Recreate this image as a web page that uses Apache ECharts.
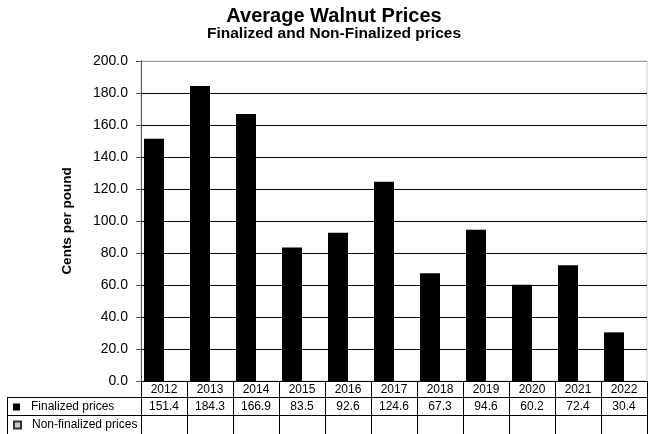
<!DOCTYPE html>
<html>
<head>
<meta charset="utf-8">
<script src="https://cdn.jsdelivr.net/npm/echarts@6/dist/echarts.min.js"></script>
<style>
  html, body { margin: 0; padding: 0; background: #fff; }
  #chart { width: 648px; height: 434px; }
</style>
</head>
<body>
<div id="chart"></div>
<script>
  // data
  var years = ['2012', '2013', '2014', '2015', '2016', '2017', '2018', '2019', '2020', '2021', '2022']
  var finalized = [151.4, 184.3, 166.9, 83.5, 92.6, 124.6, 67.3, 94.6, 60.2, 72.4, 30.4]
  var nonFinalized = [null, null, null, null, null, null, null, null, null, null, null]
  var yTicks = { min: 0, max: 200, interval: 20 }

  var font = 'Liberation Sans, Arial, sans-serif'
  var myChart = echarts.init(document.getElementById('chart'))

  // dark split lines, grey top one
  var splitColors = []
  for (var i = 0; i <= 10; i++) splitColors.push(i === 10 ? '#999' : '#000')

  var legendText = { fontSize: 12, color: '#000', lineHeight: 14, padding: [0, 0, 0, 6], fontFamily: font }

  var option = {
    animation: false,
    backgroundColor: '#fff',
    textStyle: { fontFamily: font },
    title: {
      text: 'Average Walnut Prices',
      subtext: 'Finalized and Non-Finalized prices',
      left: 334,
      textAlign: 'center',
      top: 6,
      padding: 0,
      itemGap: 0,
      textStyle: { fontSize: 20, fontWeight: 'bold', color: '#000', fontFamily: font },
      subtextStyle: { fontSize: 15.5, fontWeight: 'bold', color: '#000', fontFamily: font }
    },
    legend: [
      {
        left: 13, top: 400, padding: 0,
        itemWidth: 7, itemHeight: 7,
        selectedMode: false,
        textStyle: legendText,
        data: [{ name: 'Finalized prices', icon: 'rect' }]
      },
      {
        left: 13, top: 418, padding: 0,
        itemWidth: 7, itemHeight: 7,
        selectedMode: false,
        textStyle: legendText,
        data: [{ name: 'Non-finalized prices', icon: 'rect', itemStyle: { color: '#ccc', borderColor: '#333', borderWidth: 2 } }]
      }
    ],
    grid: {
      left: 141, right: 1, top: 61, bottom: 53,
      show: true, borderColor: '#ccc', borderWidth: 1
    },
    xAxis: [
      {
        type: 'category',
        data: years,
        position: 'bottom',
        axisLine: { lineStyle: { color: '#000', width: 1 } },
        axisTick: { show: true, length: 16, lineStyle: { color: '#000' } },
        axisLabel: { fontSize: 12, color: '#000', margin: 3, interval: 0 }
      },
      {
        type: 'category',
        data: years,
        position: 'bottom',
        offset: 16,
        axisLine: { lineStyle: { color: '#000', width: 1 } },
        axisTick: { show: true, length: 18, lineStyle: { color: '#000' } },
        axisLabel: {
          fontSize: 12, color: '#000', margin: 4, interval: 0,
          formatter: function (v, idx) { return finalized[idx].toFixed(1) }
        }
      },
      {
        type: 'category',
        data: years,
        position: 'bottom',
        offset: 34,
        axisLine: { lineStyle: { color: '#000', width: 1 } },
        axisTick: { show: true, length: 19, lineStyle: { color: '#000' } },
        axisLabel: { show: false }
      }
    ],
    yAxis: {
      type: 'value',
      min: yTicks.min,
      max: yTicks.max,
      interval: yTicks.interval,
      name: 'Cents per pound',
      nameLocation: 'middle',
      nameGap: 67,
      nameTextStyle: { fontSize: 13.5, fontWeight: 'bold', color: '#000', fontFamily: font },
      axisLine: { show: true, lineStyle: { color: '#555' } },
      axisTick: { show: true, length: 5, lineStyle: { color: '#555' } },
      axisLabel: {
        fontSize: 14, color: '#000', margin: 13,
        formatter: function (v) { return v.toFixed(1) }
      },
      splitLine: { show: true, lineStyle: { color: splitColors, width: 1 } }
    },
    series: [
      {
        name: 'Finalized prices',
        type: 'bar',
        xAxisIndex: 0,
        data: finalized,
        barWidth: 20,
        barGap: '0%',
        itemStyle: { color: '#000' }
      },
      {
        name: 'Non-finalized prices',
        type: 'bar',
        xAxisIndex: 0,
        data: nonFinalized,
        barWidth: 20,
        itemStyle: { color: '#ccc', borderColor: '#333' }
      }
    ],
    // left-hand cells of the data table
    graphic: [
      { type: 'line', shape: { x1: 7, y1: 397.5, x2: 141, y2: 397.5 }, style: { stroke: '#000', lineWidth: 1 } },
      { type: 'line', shape: { x1: 7, y1: 415.5, x2: 141, y2: 415.5 }, style: { stroke: '#000', lineWidth: 1 } },
      { type: 'line', shape: { x1: 7.5, y1: 397, x2: 7.5, y2: 434 }, style: { stroke: '#000', lineWidth: 1 } }
    ]
  }
  myChart.setOption(option)
  window.addEventListener('resize', function () {
    myChart.resize()
  })
</script>
</body>
</html>
